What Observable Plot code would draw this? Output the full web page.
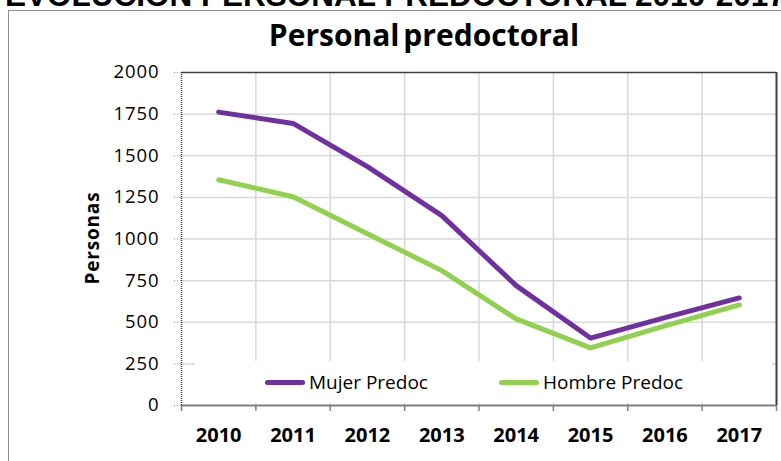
<!DOCTYPE html>
<html>
<head>
<meta charset="utf-8">
<script src="https://cdn.jsdelivr.net/npm/d3@7"></script>
<script src="https://cdn.jsdelivr.net/npm/@observablehq/plot@0.6"></script>
<style>
  html, body { margin: 0; padding: 0; background: #fff; }
  #wrap { position: relative; width: 781px; height: 461px; overflow: hidden; background: #fff; }
  #bigtitle { position: absolute; left: 5px; top: -20px; font-family: "Liberation Sans", Arial, sans-serif; font-weight: bold; font-size: 31.5px; line-height: 31.5px; white-space: nowrap; color: #000; }
  #frame { position: absolute; left: 8px; top: 10px; width: 900px; height: 600px; border: 1.5px solid #8c8c8c; box-sizing: border-box; }
  #title { position: absolute; left: 0; top: 20px; width: 848px; text-align: center; font-family: "Open Sans", sans-serif; font-weight: bold; font-size: 30px; line-height: 30px; word-spacing: -4px; color: #000; }
  #chart { position: absolute; left: 0; top: 50px; }
  #chart svg g[aria-label="y-axis tick label"] text { letter-spacing: 0.9px; }
  #ylabel { position: absolute; left: 92px; top: 238px; transform: translate(-50%, -50%) rotate(-90deg); font-family: "Open Sans", sans-serif; font-weight: bold; font-size: 19px; letter-spacing: 0.8px; white-space: nowrap; color: #000; }
  #legend { position: absolute; left: 195px; top: 361px; width: 577px; height: 42px; background: #fff; font-family: "Open Sans", sans-serif; font-size: 19px; color: #000; }
  .item { position: absolute; top: 0; height: 42px; line-height: 42px; white-space: nowrap; }
  .sw { display: inline-block; width: 40px; height: 5px; border-radius: 3px; vertical-align: middle; margin-right: 4px; position: relative; top: -1px; }
</style>
</head>
<body>
<div id="wrap">
  <div id="bigtitle">EVOLUCIÓN PERSONAL PREDOCTORAL 2010-2017</div>
  <div id="frame"></div>
  <div id="title">Personal predoctoral</div>
  <div id="chart"></div>
  <div id="ylabel">Personas</div>
  <div id="legend"></div>
</div>
<script>
// ---- data ----
const years = [2010, 2011, 2012, 2013, 2014, 2015, 2016, 2017];
const mujer = [1762, 1694, 1435, 1140, 720, 405, 528, 646];
const hombre = [1356, 1254, 1032, 810, 520, 346, 478, 604];
const seriesNames = ["Mujer Predoc", "Hombre Predoc"];
const seriesColors = ["#7030A0", "#92D050"];
const yTicks = [0, 250, 500, 750, 1000, 1250, 1500, 1750, 2000];

const rows = years.flatMap((yr, i) => [
  {year: yr, value: mujer[i], series: seriesNames[0]},
  {year: yr, value: hombre[i], series: seriesNames[1]}
]);
const bounds = years.map(y => y - 0.5).concat([years[years.length - 1] + 0.5]);
const innerBounds = bounds.slice(1, -1);
const xMin = bounds[0], xMax = bounds[bounds.length - 1];

const chart = Plot.plot({
  width: 781,
  height: 411,
  marginTop: 22,
  marginBottom: 56,
  marginLeft: 181,
  marginRight: 5,
  style: {fontFamily: "Open Sans, sans-serif", fontSize: "18px", color: "#000", background: "transparent"},
  x: {domain: [xMin, xMax]},
  y: {domain: [0, 2000]},
  color: {domain: seriesNames, range: seriesColors},
  marks: [
    Plot.ruleY(yTicks.slice(1, -1), {stroke: "#d9d9d9", strokeWidth: 1.5}),
    Plot.ruleX(innerBounds, {y1: 0, y2: 2000, stroke: "#d9d9d9", strokeWidth: 1.5}),
    Plot.ruleY([2000], {stroke: "#404040", strokeWidth: 1.5}),
    Plot.ruleX([xMax], {y1: 0, y2: 2000, stroke: "#404040", strokeWidth: 2}),
    Plot.ruleX([xMin], {y1: 0, y2: 2000, stroke: "#404040", strokeWidth: 1.5, strokeDasharray: "1,1"}),
    Plot.ruleY([0], {stroke: "#808080", strokeWidth: 2}),
    Plot.axisY({ticks: yTicks, tickSize: 8, tickPadding: 14, stroke: "#888", strokeDasharray: "1,2", tickFormat: d => String(d), fontSize: 18.5, label: null}),
    Plot.axisX({ticks: bounds, tickSize: 6, tickFormat: () => "", stroke: "#808080", strokeWidth: 1.5, label: null}),
    Plot.axisX({ticks: years, tickSize: 0, tickPadding: 22, tickFormat: d => String(d), fontWeight: "bold", fontSize: 20, label: null}),
    Plot.line(rows, {x: "year", y: "value", stroke: "series", z: "series", strokeWidth: 5, strokeLinecap: "round", strokeLinejoin: "round"})
  ]
});
document.getElementById("chart").appendChild(chart);

// legend
const legend = document.getElementById("legend");
const legendLefts = [70, 304];
seriesNames.forEach((name, i) => {
  const it = document.createElement("div");
  it.className = "item";
  it.style.left = legendLefts[i] + "px";
  const sw = document.createElement("span");
  sw.className = "sw";
  sw.style.background = seriesColors[i];
  it.appendChild(sw);
  it.appendChild(document.createTextNode(name));
  legend.appendChild(it);
});
</script>
</body>
</html>
